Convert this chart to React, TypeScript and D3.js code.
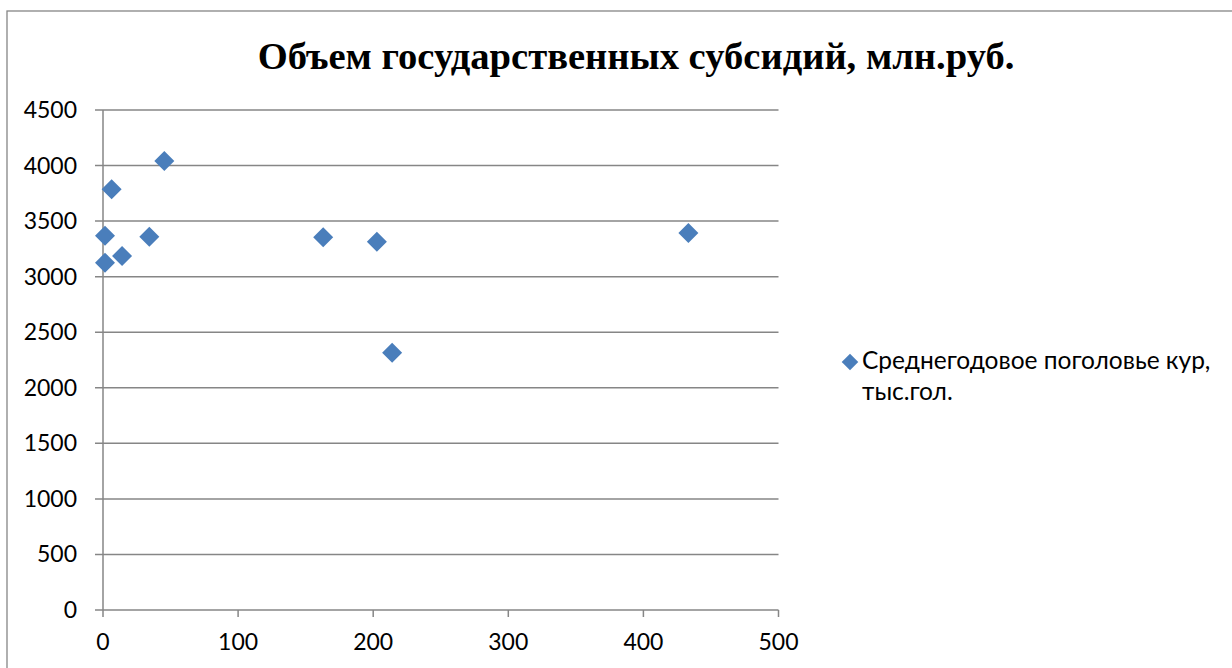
import React from "react";
import * as d3 from "d3";

const xValues: number[] = [1.5, 1.5, 6.4, 14.1, 34.3, 45.4, 163, 202.7, 214, 433.3];
const yValues: number[] = [3369, 3126, 3786, 3186, 3360, 4041, 3354, 3315, 2316, 3393];
const xTicks: number[] = [0, 100, 200, 300, 400, 500];
const yTicks: number[] = [0, 500, 1000, 1500, 2000, 2500, 3000, 3500, 4000, 4500];
const title = "Объем государственных субсидий, млн.руб.";
const legendLines: string[] = ["Среднегодовое поголовье кур,", "тыс.гол."];

const W = 1232;
const H = 668;
const color = "#4A7EBB";
const gridColor = "#868686";
const font = "Lato, 'Open Sans', sans-serif";

export default function App() {
  const x = d3.scaleLinear().domain([0, 500]).range([103, 778.5]);
  const y = d3.scaleLinear().domain([0, 4500]).range([610, 110]);
  const diamond = d3.symbol().type(d3.symbolDiamond2).size(255);
  const legendDiamond = d3.symbol().type(d3.symbolDiamond2).size(175);

  return (
    <div style={{ position: "absolute", left: 0, top: 0, width: W, height: H, overflow: "hidden", background: "#fff" }}>
      <svg width={W} height={H} style={{ display: "block" }}>
        <rect x={0} y={0} width={W} height={H} fill="#fff" />
        <rect x={7} y={11} width={W + 20} height={H + 20} fill="none" stroke={gridColor} strokeWidth={1.3} />
        <text
          x={636}
          y={69}
          textAnchor="middle"
          fontFamily="'Liberation Serif', 'Times New Roman', serif"
          fontWeight="bold"
          fontSize={38.6}
          fill="#000"
        >
          {title}
        </text>
        {yTicks.map((t) => (
          <g key={"y" + t}>
            <line x1={95} x2={x(500)} y1={y(t)} y2={y(t)} stroke={gridColor} strokeWidth={1.5} />
            <text x={77} y={y(t) + 8} textAnchor="end" fontFamily={font} fontSize={23} fill="#000">
              {t}
            </text>
          </g>
        ))}
        <line x1={x(0)} x2={x(0)} y1={y(4500)} y2={y(0)} stroke={gridColor} strokeWidth={1.5} />
        {xTicks.map((t) => (
          <g key={"x" + t}>
            <line x1={x(t)} x2={x(t)} y1={y(0)} y2={y(0) + 7} stroke={gridColor} strokeWidth={1.5} />
            <text x={x(t)} y={y(0) + 40} textAnchor="middle" fontFamily={font} fontSize={23} fill="#000">
              {t}
            </text>
          </g>
        ))}
        {xValues.map((xv, i) => (
          <path key={"p" + i} d={diamond() as string} transform={`translate(${x(xv)},${y(yValues[i])})`} fill={color} />
        ))}
        <path d={legendDiamond() as string} transform="translate(850,362)" fill={color} />
        {legendLines.map((l, i) => (
          <text key={"l" + i} x={862} y={369 + i * 31} fontFamily={font} fontSize={24.5} fill="#000">
            {l}
          </text>
        ))}
      </svg>
    </div>
  );
}
